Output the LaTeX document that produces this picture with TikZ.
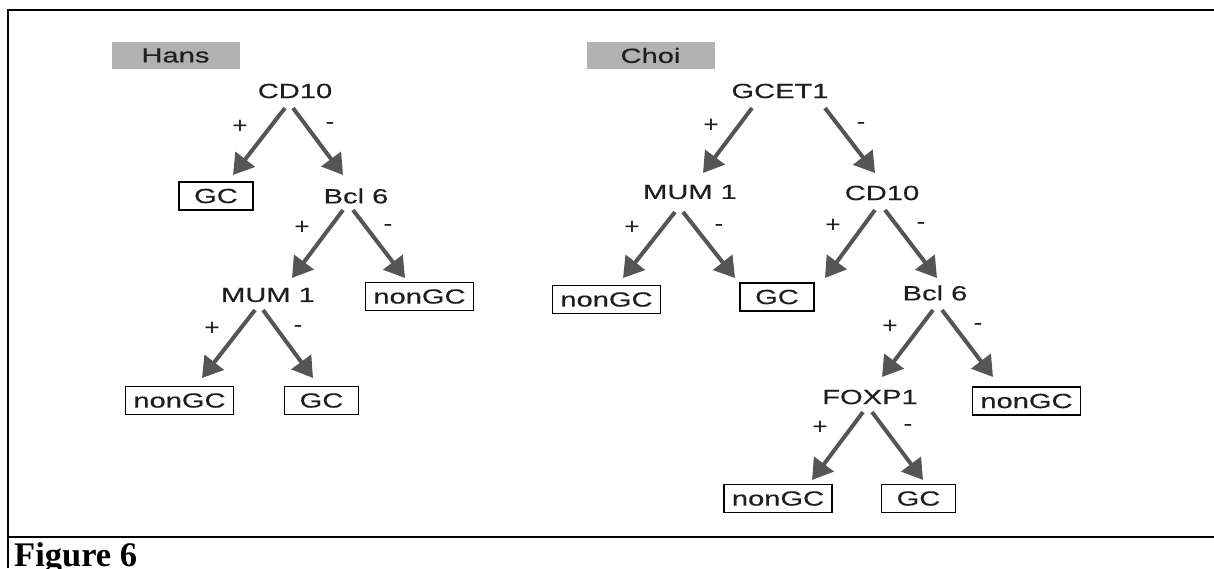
\documentclass[tikz,border=0pt]{standalone}
\usepackage{fontspec}
\usetikzlibrary{arrows.meta,calc}
\newfontfamily\hfont[FakeStretch=1.42,FakeBold=0.4]{Liberation Sans}
\newfontfamily\sgnfont[FakeStretch=1.15]{Liberation Sans}
\setmainfont{Liberation Serif}
\definecolor{arrgray}{RGB}{85,85,85}
\definecolor{titlegray}{RGB}{178,178,178}
\definecolor{txtgray}{RGB}{30,30,30}
\tikzset{
  lbl/.style={inner sep=0pt, text=txtgray, font=\hfont\fontsize{20.5}{21}\selectfont},
  leaf/.style={draw=black, line width=1.6pt, inner sep=0pt, minimum height=28pt, text=txtgray, font=\hfont\fontsize{20.5}{21}\selectfont},
  nongc/.style={leaf, minimum width=108pt},
  gcbox/.style={leaf, minimum width=74pt},
  title/.style={fill=titlegray, inner sep=0pt, minimum width=128pt, minimum height=27pt, text=txtgray, font=\hfont\fontsize{20.5}{21}\selectfont},
  sgn/.style={inner sep=0pt, text=txtgray, font=\sgnfont\fontsize{23}{24}\selectfont},
  arr/.style={draw=arrgray, line width=4pt, -{Triangle[length=20pt,width=24pt]}},
  frame/.style={line width=2.5pt, black}
}
\begin{document}
\begin{tikzpicture}[x=1pt,y=-1pt]
\useasboundingbox (0,0) rectangle (1214,568);
% frame
\draw[frame] (8,568) -- (8,10) -- (1214,10);
\draw[frame] (8,537) -- (1214,537);
\node[anchor=base west, inner sep=0pt, font=\bfseries\fontsize{34.5}{36}\selectfont] (fig) at (14,566) {Figure 6};

% ---------- Hans ----------
\node[title] (hans) at (175.5,55.5) {Hans};
\node[lbl] (hcd10) at (295,91) {CD10};
\node[gcbox] (hgc1) at (216,196) {GC};
\node[lbl] (hbcl6) at (356,196) {Bcl 6};
\node[lbl] (hmum1) at (268,295) {MUM 1};
\node[nongc] (hngc1) at (419.5,296.5) {nonGC};
\node[nongc] (hngc2) at (179.5,400.5) {nonGC};
\node[gcbox] (hgc2) at (321.5,400.5) {GC};

\draw[arr] ($(hcd10)+(-10,17)$) -- ($(hgc1)+(17,-21)$);
\draw[arr] ($(hcd10)+(-2,17)$) -- ($(hbcl6)+(-13,-21)$);
\draw[arr] ($(hbcl6)+(-13,14)$) -- ($(hmum1)+(24,-17)$);
\draw[arr] ($(hbcl6)+(-3,14)$) -- ($(hngc1)+(-14.5,-18.5)$);
\draw[arr] ($(hmum1)+(-13,15)$) -- ($(hngc2)+(22.5,-22.5)$);
\draw[arr] ($(hmum1)+(-5,15)$) -- ($(hgc2)+(-8.5,-22.5)$);

\node[sgn] (hs1) at (240,127) {+};
\node[sgn] (hs2) at (330,126) {-};
\node[sgn] (hs3) at (302,228) {+};
\node[sgn] (hs4) at (388,228) {-};
\node[sgn] (hs5) at (212,329) {+};
\node[sgn] (hs6) at (298,329) {-};

% ---------- Choi ----------
\node[title] (choi) at (650.5,55.5) {Choi};
\node[lbl] (cgcet) at (780,91) {GCET1};
\node[lbl] (cmum1) at (690,192) {MUM 1};
\node[lbl] (ccd10) at (882,193) {CD10};
\node[nongc] (cngc1) at (606.5,299.5) {nonGC};
\node[gcbox] (cgc1) at (777,297) {GC};
\node[lbl] (cbcl6) at (935,293) {Bcl 6};
\node[lbl] (cfoxp) at (870,397) {FOXP1};
\node[nongc] (cngc2) at (1026.5,401) {nonGC};
\node[nongc] (cngc3) at (778,498.5) {nonGC};
\node[gcbox] (cgc2) at (918.5,498.5) {GC};
\coordinate (cfree) at (825,278);

\draw[arr] ($(cgcet)+(-28,17)$) -- ($(cmum1)+(13,-19)$);
\draw[arr] ($(cgcet)+(45,17)$) -- ($(ccd10)+(-7,-20)$);
\draw[arr] ($(cmum1)+(-15,20)$) -- ($(cngc1)+(16.5,-21.5)$);
\draw[arr] ($(cmum1)+(-7,20)$) -- ($(cgc1)+(-42,-19)$);
\draw[arr] ($(ccd10)+(-7,17)$) -- (cfree);
\draw[arr] ($(ccd10)+(3,17)$) -- ($(cbcl6)+(2,-15)$);
\draw[arr] ($(cbcl6)+(-2,17)$) -- ($(cfoxp)+(12,-20)$);
\draw[arr] ($(cbcl6)+(7,17)$) -- ($(cngc2)+(-33.5,-24)$);
\draw[arr] ($(cfoxp)+(-7,15)$) -- ($(cngc3)+(34,-18.5)$);
\draw[arr] ($(cfoxp)+(2,15)$) -- ($(cgc2)+(4.5,-18.5)$);

\node[sgn] (cs1) at (711,126) {+};
\node[sgn] (cs2) at (861,126) {-};
\node[sgn] (cs3) at (632,228) {+};
\node[sgn] (cs4) at (719,228) {-};
\node[sgn] (cs5) at (833,226) {+};
\node[sgn] (cs6) at (921,226) {-};
\node[sgn] (cs7) at (890,327) {+};
\node[sgn] (cs8) at (978,327) {-};
\node[sgn] (cs9) at (820,428) {+};
\node[sgn] (cs10) at (908,428) {-};
\end{tikzpicture}
\end{document}
